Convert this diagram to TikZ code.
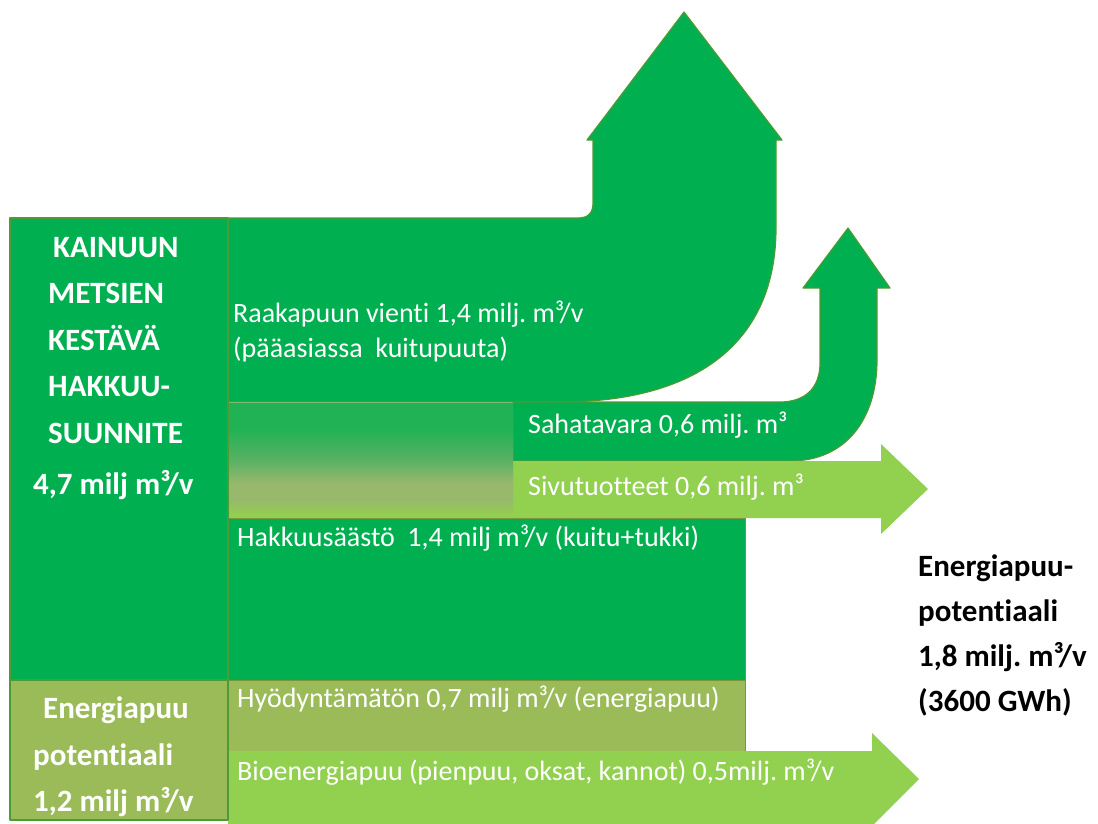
\documentclass[tikz,border=0pt]{standalone}
\usepackage{fontspec}
\setmainfont{Carlito}[Ligatures=NoCommon]
\frenchspacing
\definecolor{grn}{RGB}{0,176,80}
\definecolor{lgrn}{RGB}{146,208,80}
\definecolor{olv}{RGB}{155,187,89}
\definecolor{edgegrn}{RGB}{78,154,52}
\definecolor{edgeolv}{RGB}{120,150,60}
\definecolor{fadetop}{RGB}{32,178,84}
\definecolor{fademid}{RGB}{90,177,100}
\definecolor{fadelow}{RGB}{152,184,108}
\pgfdeclareverticalshading{cutfade}{100bp}{color(0bp)=(lgrn); color(26bp)=(lgrn);
  color(33bp)=(fadelow); color(40bp)=(fadelow); color(50bp)=(fademid);
  color(64bp)=(fadetop); color(100bp)=(fadetop)}

\begin{document}
\begin{tikzpicture}[x=1pt,y=-1pt,
    flow/.style={fill=grn,draw=edgegrn,line width=1.2pt,line join=round},
    box/.style={draw=edgeolv,line width=1pt},
    lbl/.style={anchor=west,text=white,font=\fontsize{28}{35}\selectfont,inner sep=0pt},
    head/.style={text=white,font=\bfseries\fontsize{31}{46.5}\selectfont,align=left,inner sep=0pt}]
  \useasboundingbox (0,0) rectangle (1098,823);
  \begin{scope}
    \clip (0,0) rectangle (1098,823);
    % raakapuu: bent arrow up
    \draw[flow] (228,218) -- (578,218) .. controls (588,218) and (593,213) .. (593,203)
      -- (593,140) -- (587,140) -- (684,12) -- (782,140) -- (776,140) -- (776,228)
      .. controls (776,340) and (700,402) .. (560,402) -- (228,402) -- cycle;
    % sahatavara: u-turn arrow
    \draw[flow] (513,402) -- (780,402) .. controls (805,402) and (820,388) .. (820,363)
      -- (820,288) -- (803,288) -- (848,228) -- (890,288) -- (877,288) -- (877,360)
      .. controls (877,420) and (845,461) .. (790,461) -- (513,461) -- cycle;
    % sivutuotteet
    \fill[lgrn] (513,461) -- (881,461) -- (881,444) -- (928,489) -- (881,534)
      -- (881,518) -- (513,518) -- cycle;
    % fade between raakapuu and hakkuusaasto
    \shade[shading=cutfade] (228,403) rectangle (513,518);
    \draw[box,fill=grn] (228,518) rectangle (745,680);
    \draw[box,fill=olv] (228,680) rectangle (745,751);
    % bioenergiapuu
    \fill[lgrn] (228,751) -- (872,751) -- (872,733) -- (919,779) -- (872,826)
      -- (872,830) -- (228,830) -- cycle;
    % left column
    \draw[flow] (10,218) rectangle (228,680);
    \draw[flow,fill=olv] (10,680) rectangle (228,820);
  \end{scope}

  \node[lbl,align=left] (raaka) at (233,331)
    {Raakapuun vienti 1,4 milj. m³/v\\(pääasiassa\ \ kuitupuuta)};
  \node[lbl] (saha) at (528,425) {Sahatavara 0,6 milj. m³};
  \node[lbl] (sivu) at (528,487) {Sivutuotteet 0,6 milj. m³};
  \node[lbl] (hakku) at (237,538) {Hakkuusäästö\ \ 1,4 milj m³/v (kuitu+tukki)};
  \node[lbl] (hyoty) at (237,699) {Hyödyntämätön 0,7 milj m³/v (energiapuu)};
  \node[lbl] (bio) at (237,772) {Bioenergiapuu (pienpuu, oksat, kannot) 0,5milj. m³/v};

  \node[head,anchor=north west] (kainuu) at (33,237)
    {\hspace*{20pt}KAINUUN\\\hspace*{15pt}METSIEN\\\hspace*{15pt}KESTÄVÄ\\
     \hspace*{15pt}HAKKUU-\\\hspace*{15pt}SUUNNITE\\[5pt]4,7 milj m³/v};
  \node[head,anchor=north west] (potent) at (33,697)
    {\hspace*{10pt}Energiapuu\\potentiaali\\1,2 milj m³/v};
  \node[head,text=black,anchor=north west,font=\bfseries\fontsize{31}{45}\selectfont]
    (yht) at (918,555) {Energiapuu-\\potentiaali\\1,8 milj. m³/v\\(3600 GWh)};
\end{tikzpicture}
\end{document}
